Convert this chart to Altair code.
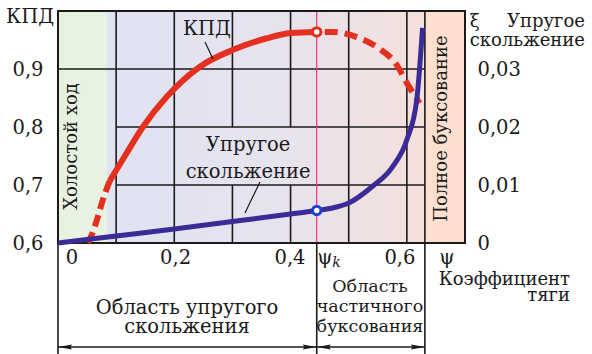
import altair as alt
import pandas as pd

# ---------------- data ----------------
# efficiency (КПД) curve: solid part, dashed low part, dashed high part
phi_eff = [0.089, 0.115, 0.146, 0.187, 0.244, 0.301, 0.359, 0.400, 0.445]
kpd_eff = [0.707, 0.750, 0.800, 0.852, 0.904, 0.933, 0.953, 0.962, 0.964]
phi_eff_lo = [0.0515, 0.058, 0.067, 0.077, 0.089]
kpd_eff_lo = [0.600, 0.614, 0.640, 0.674, 0.707]
phi_eff_hi = [0.445, 0.4725, 0.514, 0.548, 0.5825, 0.600, 0.622]
kpd_eff_hi = [0.964, 0.964, 0.955, 0.938, 0.907, 0.876, 0.841]
# elastic slip curve (right scale ξ)
phi_slip = [0.0, 0.1, 0.2, 0.3, 0.4, 0.445, 0.47, 0.5, 0.54, 0.575, 0.6, 0.617, 0.627]
xi_slip = [0.0, 0.0012, 0.0024, 0.0037, 0.0050, 0.0056, 0.0060, 0.0069, 0.0097,
           0.0131, 0.0178, 0.0247, 0.0371]
psi_k = 0.445
kpd_k = 0.964
xi_k = 0.0056

# regions
idle_end = 0.0843
full_slip_start = 0.631
phi_max = 0.7

# grid segments
v_phi = [0.1, 0.2, 0.3, 0.3, 0.4, 0.4, 0.5, 0.6]
v_lo = [0.6, 0.6, 0.6, 0.8, 0.6, 0.8, 0.6, 0.6]
v_hi = [1.0, 1.0, 0.7, 1.0, 0.7, 1.0, 1.0, 1.0]
h_kpd = [0.7, 0.8, 0.9]
h_from = [0.1, 0.1, 0.0]
h_to = [full_slip_start] * 3

left_ticks = [0.6, 0.7, 0.8, 0.9]
right_ticks = [0.0, 0.01, 0.02, 0.03]

FONT = "DejaVu Serif"
FS = 19.5
FS2 = 18
RED = "#e3301f"
BLUE = "#3a2b97"
INK = "#1a1a1a"

xs = alt.Scale(domain=[0, phi_max], nice=False, zero=False)
ys = alt.Scale(domain=[0.6, 1.0], nice=False, zero=False)
xis = alt.Scale(domain=[0, 0.04], nice=False, zero=False)

LEFT_AXIS = alt.Axis(values=left_ticks,
                     labelExpr="replace(format(datum.value,'.1f'),'.',',')",
                     ticks=False, domain=False, grid=False, title=None,
                     labelFont=FONT, labelFontSize=FS, labelColor=INK,
                     labelPadding=15)
RIGHT_AXIS = alt.Axis(orient="right", values=right_ticks,
                      labelExpr="datum.value == 0 ? '0' : replace(format(datum.value,'.2f'),'.',',')",
                      ticks=False, domain=False, grid=False, title=None,
                      labelFont=FONT, labelFontSize=FS, labelColor=INK,
                      labelPadding=12)


def X(f):
    return alt.X(f, type="quantitative", scale=xs, axis=None)


def Y(f):
    return alt.Y(f, type="quantitative", scale=ys, axis=LEFT_AXIS)


def YR(f):
    return alt.Y(f, type="quantitative", scale=xis, axis=RIGHT_AXIS)


def text_layer(xv, yv, sv, align="center", size=FS, **kw):
    return alt.Chart(pd.DataFrame({"x": xv, "y": yv, "t": sv})).mark_text(
        font=FONT, fontSize=size, color=INK, align=align, baseline="middle", **kw
    ).encode(x=X("x"), y=Y("y"), text="t:N")


# ---------------- backgrounds ----------------
idle = alt.Chart(pd.DataFrame({"a": [0.0], "b": [idle_end], "c": [0.6], "d": [1.0]})).mark_rect(
    fill="#e8f2e1").encode(x=X("a"), x2="b", y=Y("c"), y2="d")

mid = alt.Chart(pd.DataFrame({"a": [idle_end], "b": [full_slip_start], "c": [0.6], "d": [1.0]})).mark_rect(
    fill=alt.Gradient(gradient="linear",
                      stops=[alt.GradientStop(color="#e0e3f3", offset=0),
                             alt.GradientStop(color="#e7e3ee", offset=0.55),
                             alt.GradientStop(color="#f4e0db", offset=1)],
                      x1=0, x2=1, y1=0, y2=0)
).encode(x=X("a"), x2="b", y=Y("c"), y2="d")

fullslip = alt.Chart(pd.DataFrame({"a": [full_slip_start], "b": [phi_max], "c": [0.6], "d": [1.0]})).mark_rect(
    fill="#fcdfcf").encode(x=X("a"), x2="b", y=Y("c"), y2="d")

# ---------------- grid ----------------
vg = alt.Chart(pd.DataFrame({"p": v_phi, "lo": v_lo, "hi": v_hi})).mark_rule(
    color=INK, strokeWidth=1.6).encode(x=X("p"), y=Y("lo"), y2="hi")
hg = alt.Chart(pd.DataFrame({"k": h_kpd, "f": h_from, "t": h_to})).mark_rule(
    color=INK, strokeWidth=1.6).encode(y=Y("k"), x=X("f"), x2="t")

pink = alt.Chart(pd.DataFrame({"p": [psi_k], "lo": [0.6], "hi": [1.0]})).mark_rule(
    color="#e6337a", strokeWidth=1.2).encode(x=X("p"), y=Y("lo"), y2="hi")

frame = alt.Chart(pd.DataFrame({"a": [0.0], "b": [phi_max], "c": [0.6], "d": [1.0]})).mark_rect(
    filled=False, stroke=INK, strokeWidth=2).encode(x=X("a"), x2="b", y=Y("c"), y2="d")

dividers = alt.Chart(pd.DataFrame({"p": [0.0, psi_k, full_slip_start],
                                   "lo": [0.408, 0.408, 0.408],
                                   "hi": [0.6, 0.6, 1.0]})).mark_rule(
    color=INK, strokeWidth=1.6).encode(x=X("p"), y=Y("lo"), y2="hi")

# ---------------- arrows ----------------
arrow_y = 0.4207
arr_lines = alt.Chart(pd.DataFrame({"a": [0.0, psi_k], "b": [psi_k, full_slip_start],
                                    "y": [arrow_y, arrow_y]})).mark_rule(
    color=INK, strokeWidth=1.3).encode(x=X("a"), x2="b", y=Y("y"))
head_l = alt.Chart(pd.DataFrame({"p": [0.0, psi_k], "y": [arrow_y] * 2})).mark_point(
    shape="M0,0L2,-0.36L1.75,0L2,0.36Z", size=196, filled=True, color=INK, opacity=1,
    strokeWidth=0).encode(x=X("p"), y=Y("y"))
head_r = alt.Chart(pd.DataFrame({"p": [psi_k, full_slip_start], "y": [arrow_y] * 2})).mark_point(
    shape="M0,0L-2,-0.36L-1.75,0L-2,0.36Z", size=196, filled=True, color=INK, opacity=1,
    strokeWidth=0).encode(x=X("p"), y=Y("y"))

# ---------------- efficiency curve ----------------
eff = alt.Chart(pd.DataFrame({"p": phi_eff, "k": kpd_eff})).mark_line(
    color=RED, strokeWidth=6, interpolate="monotone").encode(x=X("p"), y=Y("k"))
eff_lo = alt.Chart(pd.DataFrame({"p": phi_eff_lo, "k": kpd_eff_lo})).mark_line(
    color=RED, strokeWidth=6, interpolate="monotone", strokeDash=[12, 6]).encode(
    x=X("p"), y=Y("k"))
eff_hi = alt.Chart(pd.DataFrame({"p": phi_eff_hi, "k": kpd_eff_hi})).mark_line(
    color=RED, strokeWidth=6, interpolate="monotone", strokeDash=[13, 7],
    strokeDashOffset=-8).encode(x=X("p"), y=Y("k"))
eff_pt = alt.Chart(pd.DataFrame({"p": [psi_k], "k": [kpd_k]})).mark_point(
    shape="circle", size=70, filled=True, fill="white", stroke=RED, strokeWidth=3,
    opacity=1).encode(x=X("p"), y=Y("k"))

# ---------------- leader lines ----------------
leaders = alt.Chart(pd.DataFrame({"a": [0.2528, 0.3474], "b": [0.2666, 0.3216],
                                  "c": [0.9466, 0.7052], "d": [0.9172, 0.6517]})).mark_rule(
    color=INK, strokeWidth=1.2).encode(x=X("a"), x2="b", y=Y("c"), y2="d")

# ---------------- texts ----------------
c_x = [-0.048, 0.256, 0.327, 0.327, 0.0241, 0.2023, 0.399, 0.588, 0.669, 0.459,
       0.2219, 0.2219]
c_y = [0.9897, 0.969, 0.769, 0.722, 0.5741, 0.5741, 0.5741, 0.5741, 0.5741, 0.5741,
       0.4879, 0.4552]
c_s = ["КПД", "КПД", "Упругое", "скольжение", "0", "0,2", "0,4", "0,6", "ψ", "ψ",
       "Область упругого", "скольжения"]
texts = text_layer(c_x, c_y, c_s)
k_t = text_layer([0.479], [0.5655], ["k"], size=14, fontStyle="italic")

p_x = [0.5366, 0.5366, 0.5366]
p_y = [0.5241, 0.4897, 0.4552]
p_s = ["Область", "частичного", "буксования"]
ptexts = text_layer(p_x, p_y, p_s, size=17.5)

r_x = [0.8806, 0.8806, 0.9064, 0.9064]
r_y = [0.5362, 0.5079, 0.9805, 0.9483]
r_s = ["Коэффициент", "тяги", "Упругое", "скольжение"]
rtexts = text_layer(r_x, r_y, r_s, align="right", size=FS2)
xi_t = text_layer([0.708], [0.9805], ["ξ"], align="left", size=FS2)

rot = text_layer([0.0249, 0.6613], [0.7664, 0.7974],
                 ["Холостой  ход", "Полное буксование"], size=18, angle=270)

left = alt.layer(idle, mid, fullslip, vg, hg, pink, frame, dividers, arr_lines,
                 head_l, head_r, eff_lo, eff, eff_hi, eff_pt, leaders, texts,
                 k_t, ptexts, rtexts, xi_t, rot)

# ---------------- slip curve (right axis) ----------------
slip = alt.Chart(pd.DataFrame({"p": phi_slip, "xi": xi_slip})).mark_line(
    color=BLUE, strokeWidth=5, interpolate="monotone").encode(x=X("p"), y=YR("xi"))
slip_pt = alt.Chart(pd.DataFrame({"p": [psi_k], "xi": [xi_k]})).mark_point(
    shape="circle", size=70, filled=True, fill="white", stroke="#1f3fd4",
    strokeWidth=3, opacity=1).encode(x=X("p"), y=YR("xi"))

right = alt.layer(slip, slip_pt)

chart = alt.layer(left, right).resolve_scale(y="independent").properties(
    width=407, height=232,
    autosize=alt.AutoSizeParams(type="none"),
    padding={"left": 58, "top": 11, "right": 127, "bottom": 111},
    background="white",
).configure_view(stroke=None)

chart.save("out.html", embed_options={"renderer": "svg", "actions": False})
